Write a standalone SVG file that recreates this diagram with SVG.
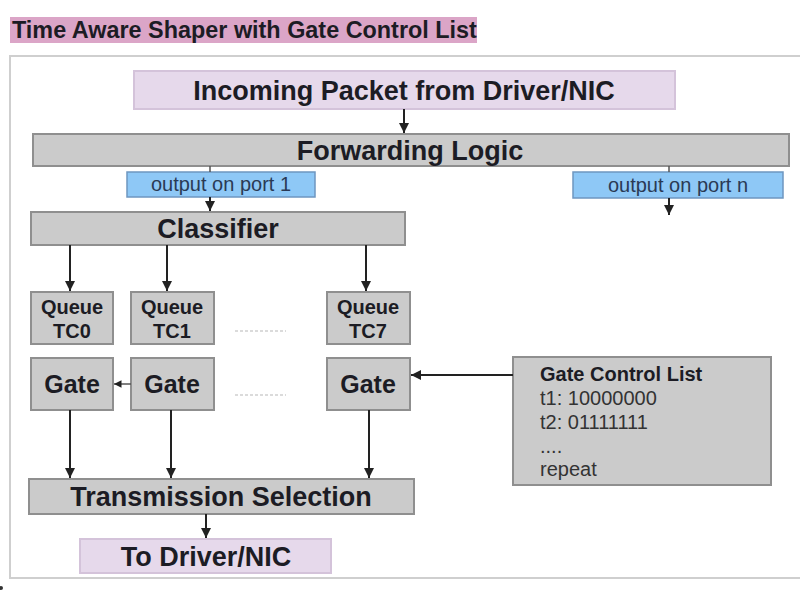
<svg xmlns="http://www.w3.org/2000/svg" width="800" height="601" viewBox="0 0 800 601">
<style>
text{font-family:"Liberation Sans",Arial,sans-serif;fill:#1c1c24}
.b{font-weight:bold}
.big{font-size:27px;font-weight:bold}
.mid{font-size:20px;font-weight:bold}
.gate{font-size:25px;font-weight:bold}
.port{font-size:20px;fill:#2a3a55}
.gcl{font-size:20px;fill:#333}
.grey{fill:#cbcbcb;stroke:#8f8f8f;stroke-width:2}
.lav{fill:#e6d9eb;stroke:#d4c3da;stroke-width:2}
.blue{fill:#8ec8f6;stroke:#6e96c0;stroke-width:1.5}
.ln{stroke:#222;stroke-width:2;fill:none}
.lnt{stroke:#555;stroke-width:1.5;fill:none}
</style>
<defs>
<marker id="ah" viewBox="0 0 10 10" refX="10" refY="5" markerWidth="5" markerHeight="5" orient="auto" markerUnits="strokeWidth">
<path d="M0,0 L10,5 L0,10 z" fill="#222"/>
</marker>
</defs>
<rect width="800" height="601" fill="#fff"/>
<g id="title">
<rect x="10" y="17" width="467" height="26" fill="#dba5c7"/>
<text x="12" y="38" class="b" font-size="23.4">Time Aware Shaper with Gate Control List</text>
</g>
<rect id="frame" x="10" y="56" width="800" height="522" fill="none" stroke="#cfcfcf" stroke-width="2"/>
<g id="incoming">
<rect x="134" y="71" width="541" height="38" class="lav"/>
<text x="404" y="100" text-anchor="middle" class="big">Incoming Packet from Driver/NIC</text>
</g>
<g id="forwarding">
<rect x="33" y="134" width="756" height="32" class="grey"/>
<text x="410" y="160" text-anchor="middle" class="big">Forwarding Logic</text>
</g>
<g id="port1">
<rect x="127" y="172" width="188" height="25" class="blue"/>
<text x="221" y="191" text-anchor="middle" class="port">output on port 1</text>
</g>
<g id="portn">
<rect x="573" y="172" width="210" height="26" class="blue"/>
<text x="678" y="192" text-anchor="middle" class="port">output on port n</text>
</g>
<g id="classifier">
<rect x="31" y="212" width="374" height="33" class="grey"/>
<text x="218" y="238" text-anchor="middle" class="big">Classifier</text>
</g>
<g id="q0">
<rect x="31" y="292" width="82" height="52" class="grey"/>
<text x="72" y="314" text-anchor="middle" class="mid">Queue</text>
<text x="72" y="338" text-anchor="middle" class="mid">TC0</text>
</g>
<g id="q1">
<rect x="131" y="292" width="83" height="52" class="grey"/>
<text x="172" y="314" text-anchor="middle" class="mid">Queue</text>
<text x="172" y="338" text-anchor="middle" class="mid">TC1</text>
</g>
<g id="q7">
<rect x="327" y="292" width="83" height="52" class="grey"/>
<text x="368" y="314" text-anchor="middle" class="mid">Queue</text>
<text x="368" y="338" text-anchor="middle" class="mid">TC7</text>
</g>
<g id="g0">
<rect x="31" y="358" width="82" height="52" class="grey"/>
<text x="72" y="393" text-anchor="middle" class="gate">Gate</text>
</g>
<g id="g1">
<rect x="131" y="358" width="83" height="52" class="grey"/>
<text x="172" y="393" text-anchor="middle" class="gate">Gate</text>
</g>
<g id="g7">
<rect x="327" y="358" width="83" height="52" class="grey"/>
<text x="368" y="393" text-anchor="middle" class="gate">Gate</text>
</g>
<g id="gcl">
<rect x="513" y="357" width="258" height="128" class="grey"/>
<text x="540" y="381" class="mid">Gate Control List</text>
<text x="540" y="405" class="gcl">t1: 10000000</text>
<text x="540" y="429" class="gcl">t2: 01111111</text>
<text x="540" y="453" class="gcl">....</text>
<text x="540" y="476" class="gcl">repeat</text>
</g>
<g id="tsel">
<rect x="29" y="479" width="385" height="35" class="grey"/>
<text x="221" y="506" text-anchor="middle" class="big">Transmission Selection</text>
</g>
<g id="todriver">
<rect x="80" y="539" width="251" height="34" class="lav"/>
<text x="206" y="566" text-anchor="middle" class="big">To Driver/NIC</text>
</g>
<g id="dots" stroke="#cfcfcf" stroke-width="1.5" stroke-dasharray="3,2">
<line x1="235" y1="331" x2="286" y2="331"/>
<line x1="235" y1="395" x2="286" y2="395"/>
</g>
<circle cx="1" cy="588" r="2" fill="#333"/>
<g id="connectors">
<line x1="404" y1="109" x2="404" y2="133" class="ln" marker-end="url(#ah)"/>
<line x1="210" y1="166" x2="210" y2="172" class="lnt"/>
<line x1="210" y1="197" x2="210" y2="211" class="ln" marker-end="url(#ah)"/>
<line x1="669" y1="166" x2="669" y2="172" class="lnt"/>
<line x1="669" y1="198" x2="669" y2="215" class="ln" marker-end="url(#ah)"/>
<line x1="70" y1="245" x2="70" y2="291" class="ln" marker-end="url(#ah)"/>
<line x1="167" y1="245" x2="167" y2="291" class="ln" marker-end="url(#ah)"/>
<line x1="366" y1="245" x2="366" y2="291" class="ln" marker-end="url(#ah)"/>
<line x1="131" y1="384" x2="114" y2="384" class="lnt" marker-end="url(#ah)"/>
<line x1="513" y1="375" x2="411" y2="375" class="ln" marker-end="url(#ah)"/>
<line x1="70" y1="410" x2="70" y2="478" class="ln" marker-end="url(#ah)"/>
<line x1="171" y1="410" x2="171" y2="478" class="ln" marker-end="url(#ah)"/>
<line x1="369" y1="410" x2="369" y2="478" class="ln" marker-end="url(#ah)"/>
<line x1="206" y1="514" x2="206" y2="538" class="ln" marker-end="url(#ah)"/>
</g>
</svg>
